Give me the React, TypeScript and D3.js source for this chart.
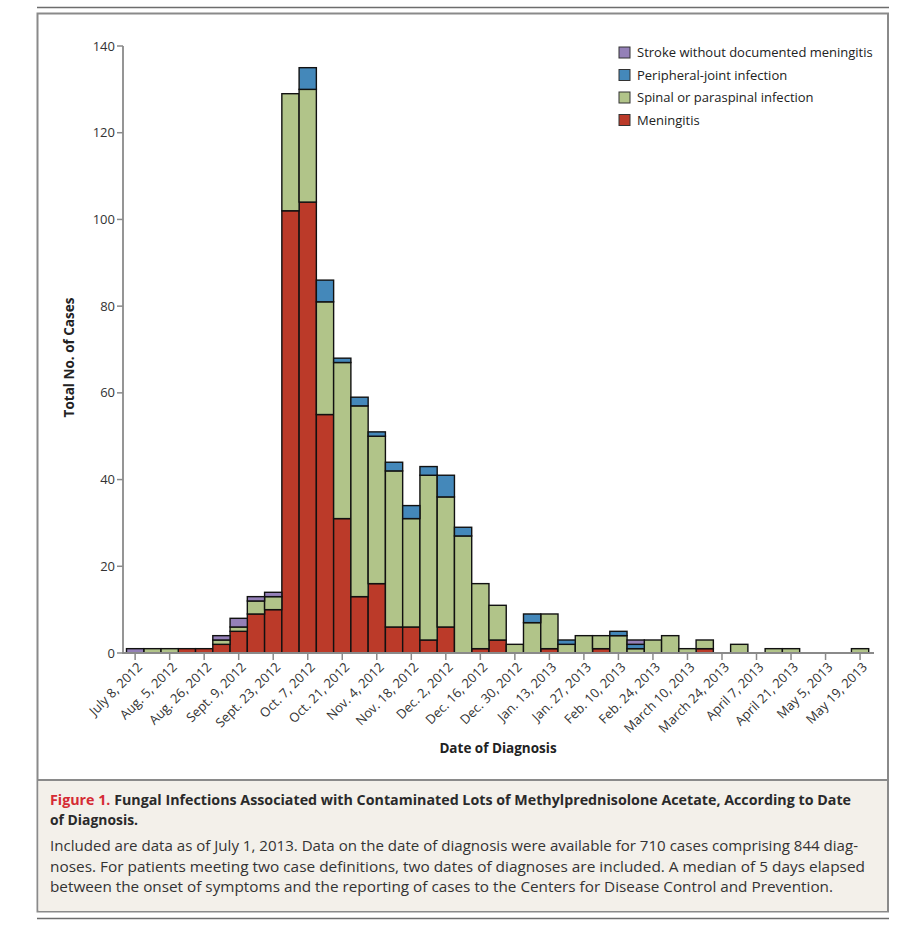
import React from "react";
import * as d3 from "d3";

const tickLabels = [
  "July 8, 2012", "Aug. 5, 2012", "Aug. 26, 2012", "Sept. 9, 2012", "Sept. 23, 2012",
  "Oct. 7, 2012", "Oct. 21, 2012", "Nov. 4, 2012", "Nov. 18, 2012", "Dec. 2, 2012",
  "Dec. 16, 2012", "Dec. 30, 2012", "Jan. 13, 2013", "Jan. 27, 2013", "Feb. 10, 2013",
  "Feb. 24, 2013", "March 10, 2013", "March 24, 2013", "April 7, 2013", "April 21, 2013",
  "May 5, 2013", "May 19, 2013",
];

// weekly bars (43 weeks); ticks every second week
const meningitis = [0,0,0,1,1,2,5,9,10,102,104,55,31,13,16,6,6,3,6,0,1,3,0,0,1,0,0,1,0,0,0,0,0,1,0,0,0,0,0,0,0,0,0];
const spinal     = [0,1,1,0,0,1,1,3,3,27,26,26,36,44,34,36,25,38,30,27,15,8,2,7,8,2,4,3,4,1,3,4,1,2,0,2,0,1,1,0,0,0,1];
const peripheral = [0,0,0,0,0,0,0,0,0,0,5,5,1,2,1,2,3,2,5,2,0,0,0,2,0,1,0,0,1,1,0,0,0,0,0,0,0,0,0,0,0,0,0];
const stroke     = [1,0,0,0,0,1,2,1,1,0,0,0,0,0,0,0,0,0,0,0,0,0,0,0,0,0,0,0,0,1,0,0,0,0,0,0,0,0,0,0,0,0,0];

const seriesKeys = ["meningitis", "spinal", "peripheral", "stroke"];
const seriesColors = ["#bb3a29", "#b1c489", "#4488ba", "#9480b8"];
const legendLabels = [
  "Stroke without documented meningitis",
  "Peripheral-joint infection",
  "Spinal or paraspinal infection",
  "Meningitis",
];
const legendColors = ["#9480b8", "#4488ba", "#b1c489", "#bb3a29"];
const yTicks = [0, 20, 40, 60, 80, 100, 120, 140];

const captionTitle1 = "Fungal Infections Associated with Contaminated Lots of Methylprednisolone Acetate, According to Date";
const captionTitle2 = "of Diagnosis.";
const captionBody = [
  "Included are data as of July 1, 2013. Data on the date of diagnosis were available for 710 cases comprising 844 diag-",
  "noses. For patients meeting two case definitions, two dates of diagnoses are included. A median of 5 days elapsed",
  "between the onset of symptoms and the reporting of cases to the Centers for Disease Control and Prevention.",
];

export default function App() {
  const W = 902, H = 931;
  const plotLeft = 126.5, plotRight = 868.7;
  const yTop = 46, yBottom = 653;
  const axisColor = "#8a8a8a";
  const font = "'Open Sans', 'Noto Sans', sans-serif";

  const rows = meningitis.map((_, i) => ({
    i,
    meningitis: meningitis[i],
    spinal: spinal[i],
    peripheral: peripheral[i],
    stroke: stroke[i],
  }));
  const x = d3.scaleBand<number>().domain(rows.map((r) => r.i)).range([plotLeft, plotRight]).paddingInner(0).paddingOuter(0);
  const y = d3.scaleLinear().domain([0, 140]).range([yBottom, yTop]);
  const stacked = d3.stack<any>().keys(seriesKeys)(rows);

  const tickIdx = tickLabels.map((_, k) => k * 2);

  return (
    <svg width={W} height={H} style={{ position: "absolute", left: 0, top: 0, background: "#fff" }} fontFamily={font}>
      {/* frame */}
      <line x1={37} x2={889} y1={7.5} y2={7.5} stroke="#6d6d6d" strokeWidth={1.5} />
      <rect x={37.5} y={13.5} width={850.5} height={898} fill="#fff" stroke="#8a8a8a" strokeWidth={2} />
      <rect x={38.5} y={780} width={848.5} height={131} fill="#f3f0ea" />
      <line x1={37.5} x2={888} y1={780} y2={780} stroke="#8a8a8a" strokeWidth={2} />
      <line x1={37} x2={889} y1={918.5} y2={918.5} stroke="#6d6d6d" strokeWidth={1.5} />

      {/* bars */}
      {stacked.map((s, si) => (
        <g key={seriesKeys[si]} fill={seriesColors[si]}>
          {s.map((d, j) =>
            d[1] - d[0] > 0 ? (
              <rect
                key={j}
                x={x(j)!}
                y={y(d[1])}
                width={x.bandwidth()}
                height={y(d[0]) - y(d[1])}
                stroke="#111"
                strokeWidth={1.4}
              />
            ) : null
          )}
        </g>
      ))}

      {/* y axis */}
      <line x1={123} x2={123} y1={yTop} y2={yBottom} stroke={axisColor} strokeWidth={1.8} />
      {yTicks.map((t) => (
        <g key={t} transform={`translate(0,${y(t)})`}>
          <line x1={117} x2={123} stroke={axisColor} strokeWidth={1.5} />
          <text x={115} dy="0.35em" textAnchor="end" fontSize={13} fill="#333">{t}</text>
        </g>
      ))}
      <text transform={`translate(74,${(yTop + yBottom) / 2 + 8}) rotate(-90)`} textAnchor="middle" fontSize={13.5} fontWeight="bold" fill="#222">
        Total No. of Cases
      </text>

      {/* x axis */}
      <line x1={122} x2={874} y1={yBottom} y2={yBottom} stroke={axisColor} strokeWidth={1.8} />
      {tickIdx.map((idx, k) => {
        const cx = x(idx)! + x.bandwidth() / 2;
        return (
          <g key={k} transform={`translate(${cx},${yBottom})`}>
            <line y1={0} y2={7} stroke={axisColor} strokeWidth={1.5} />
            <text transform="translate(8,15) rotate(-45)" textAnchor="end" fontSize={13} fill="#333">
              {tickLabels[k]}
            </text>
          </g>
        );
      })}
      <text x={498} y={753} textAnchor="middle" fontSize={13.5} fontWeight="bold" fill="#222">Date of Diagnosis</text>

      {/* legend */}
      {legendLabels.map((l, k) => (
        <g key={l} transform={`translate(619,${47 + k * 22.5})`}>
          <rect x={0} y={0} width={11} height={11} fill={legendColors[k]} stroke="#333" strokeWidth={1} />
          <text x={18} y={10} fontSize={13} fill="#222">{l}</text>
        </g>
      ))}

      {/* caption */}
      <text x={50} y={805} fontSize={15} fontWeight="bold" fill="#2a2a2a" textLength={801} lengthAdjust="spacingAndGlyphs">
        <tspan fill="#d52b34">Figure 1.</tspan> {captionTitle1}
      </text>
      <text x={50} y={825} fontSize={15} fontWeight="bold" fill="#2a2a2a" textLength={88} lengthAdjust="spacingAndGlyphs">
        {captionTitle2}
      </text>
      {captionBody.map((line, k) => (
        <text key={k} x={50} y={851 + k * 20.5} fontSize={15} fill="#333"
          textLength={[808, 815, 783][k]} lengthAdjust="spacingAndGlyphs">
          {line}
        </text>
      ))}
    </svg>
  );
}
